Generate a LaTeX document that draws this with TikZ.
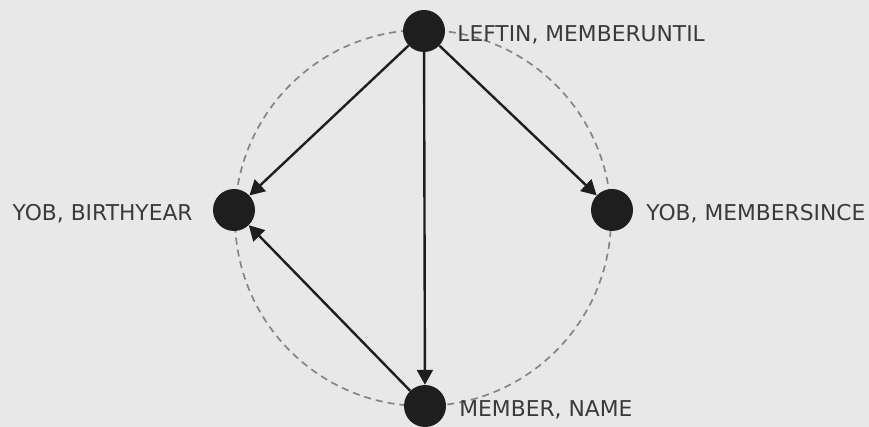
\documentclass[tikz,border=0pt]{standalone}
\usepackage{fontspec}
\setmainfont{DejaVu Sans}
\usepackage{xcolor}
\usetikzlibrary{positioning,arrows.meta}

\definecolor{bggray}{HTML}{E8E8E8}
\definecolor{dotblack}{HTML}{1E1E1E}
\definecolor{labgray}{HTML}{3A3A3A}
\definecolor{ringgray}{HTML}{858585}

\tikzset{
	attr/.style={circle,fill=dotblack,minimum size=42pt,inner sep=0pt},
	attrlab/.style={inner sep=0pt,text=labgray,yshift=-4pt,font=\fontsize{21.8}{26}\selectfont},
	fd/.style={-{Triangle[length=15pt,width=16pt]},line width=2.4pt,draw=dotblack}
}

\begin{document}
\begin{tikzpicture}[x=1pt,y=-1pt]
	
	\fill[bggray] (0,0) rectangle (869,427);
	\useasboundingbox (0,0) rectangle (869,427);
	
	\coordinate (c) at (423,218);
	\draw[ringgray,line width=1.7pt,dash pattern=on 7pt off 5pt] (c) circle (188);
	
	\node[attr] (leftin) at (424,31) {};
	\node[attr] (birthyear) at (234,210) {};
	\node[attr] (membersince) at (612,210) {};
	\node[attr] (member) at (425,406) {};
	
	\node[attrlab,right=12pt of leftin] (lleftin) {LEFTIN, MEMBERUNTIL};
	\node[attrlab,left=20pt of birthyear] (lbirthyear) {YOB, BIRTHYEAR};
	\node[attrlab,right=13pt of membersince] (lmembersince) {YOB, MEMBERSINCE};
	\node[attrlab,right=13pt of member] (lmember) {MEMBER, NAME};
	
	\foreach \dst in {birthyear,membersince,member}
		\draw[fd] (leftin) -- (\dst);
	\draw[fd] (member) -- (birthyear);
	
\end{tikzpicture}
\end{document}
